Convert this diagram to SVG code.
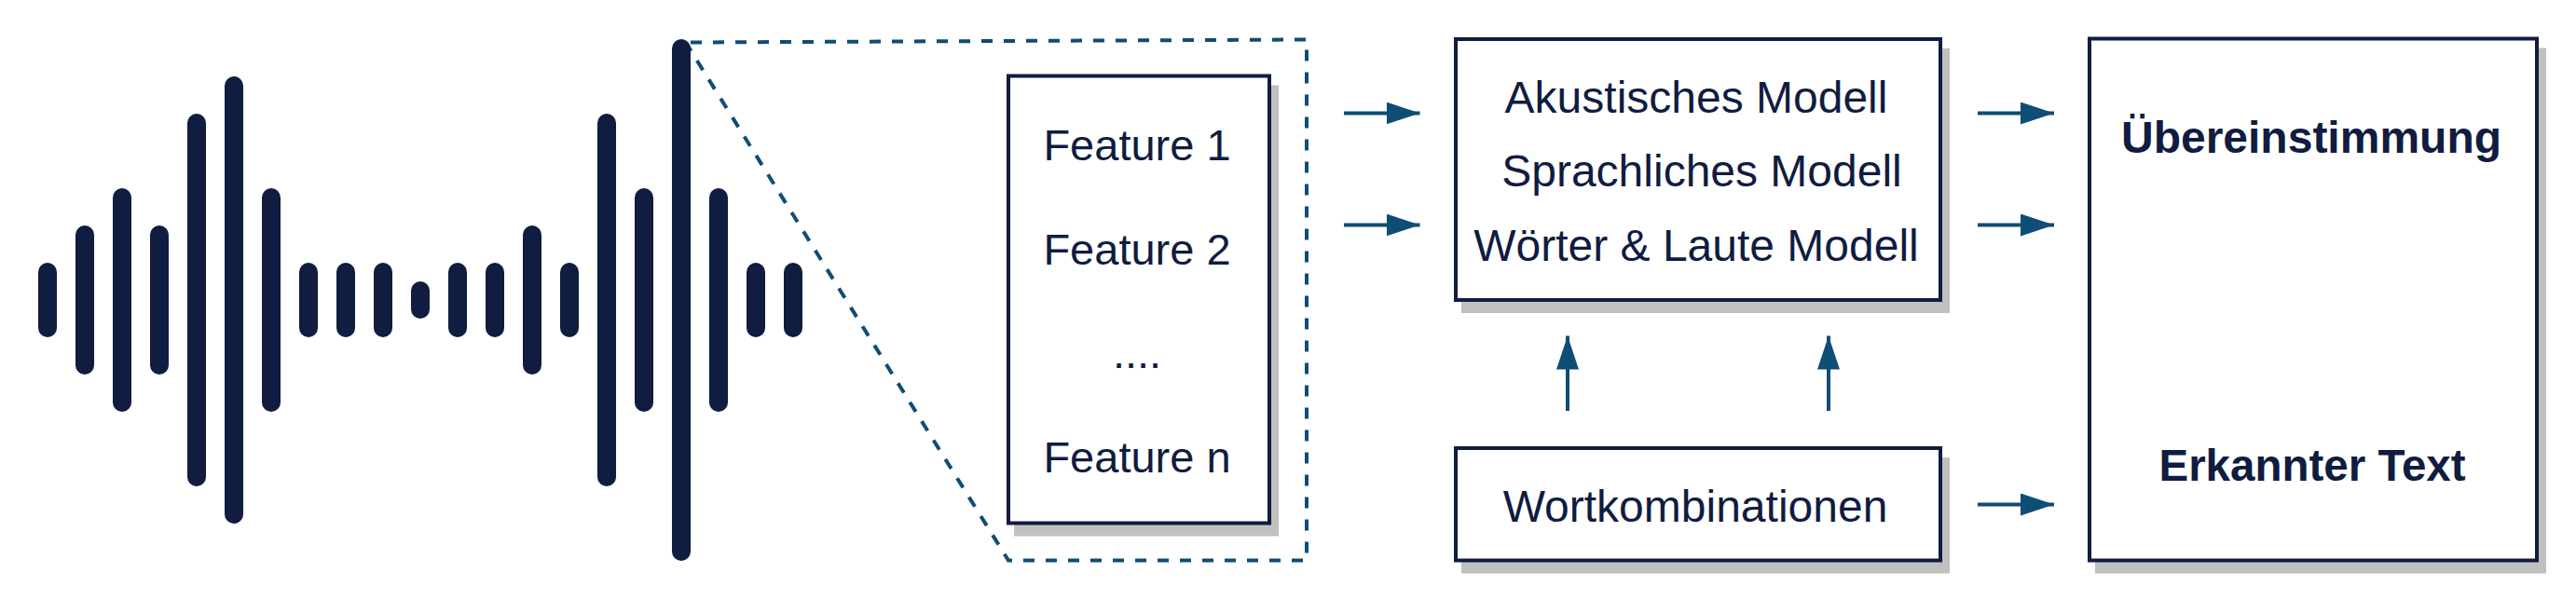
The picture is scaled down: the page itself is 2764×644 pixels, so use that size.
<svg xmlns="http://www.w3.org/2000/svg" width="2764" height="644" viewBox="0 0 2764 644">
<defs>
<style>
.bar{fill:#101c40}
.box{fill:#ffffff;stroke:#101c40;stroke-width:4}
.shadow{fill:#c0c0c0}
.txt{font-family:"Liberation Sans",Arial,sans-serif;font-size:48px;fill:#101c40;text-anchor:middle}
.ftxt{font-size:47px}
.bold{font-weight:bold}
.dash{fill:none;stroke:#0e4d75;stroke-width:4;stroke-dasharray:12 12}
.conn{fill:none;stroke:#0e4d75;stroke-width:4}
</style>
<marker id="ah" markerUnits="userSpaceOnUse" markerWidth="36" markerHeight="24" refX="36" refY="12" orient="auto">
<path d="M0,0 L36,12 L0,24 z" fill="#0e4d75"/>
</marker>
</defs>
<rect width="2764" height="644" fill="#ffffff"/>
<g id="zoom-outline">
<path class="dash" d="M741,45.5 L1402,42.5 L1402,601.5 L1082,601.5 L736,46"/>
</g>
<g id="waveform">
<rect class="bar" x="41" y="282" width="20" height="80" rx="10"/>
<rect class="bar" x="81" y="242" width="20" height="160" rx="10"/>
<rect class="bar" x="121" y="202" width="20" height="240" rx="10"/>
<rect class="bar" x="161" y="242" width="20" height="160" rx="10"/>
<rect class="bar" x="201" y="122" width="20" height="400" rx="10"/>
<rect class="bar" x="241" y="82" width="20" height="480" rx="10"/>
<rect class="bar" x="281" y="202" width="20" height="240" rx="10"/>
<rect class="bar" x="321" y="282" width="20" height="80" rx="10"/>
<rect class="bar" x="361" y="282" width="20" height="80" rx="10"/>
<rect class="bar" x="401" y="282" width="20" height="80" rx="10"/>
<rect class="bar" x="441" y="302" width="20" height="40" rx="10"/>
<rect class="bar" x="481" y="282" width="20" height="80" rx="10"/>
<rect class="bar" x="521" y="282" width="20" height="80" rx="10"/>
<rect class="bar" x="561" y="242" width="20" height="160" rx="10"/>
<rect class="bar" x="601" y="282" width="20" height="80" rx="10"/>
<rect class="bar" x="641" y="122" width="20" height="400" rx="10"/>
<rect class="bar" x="681" y="202" width="20" height="240" rx="10"/>
<rect class="bar" x="721" y="42" width="20" height="560" rx="10"/>
<rect class="bar" x="761" y="202" width="20" height="240" rx="10"/>
<rect class="bar" x="801" y="282" width="20" height="80" rx="10"/>
<rect class="bar" x="841" y="282" width="20" height="80" rx="10"/>
</g>
<g id="features">
<rect class="shadow" x="1088" y="91.5" width="284" height="484"/>
<rect class="box" x="1082" y="81.5" width="280" height="480"/>
<text class="txt ftxt" x="1220" y="171.5">Feature 1</text>
<text class="txt ftxt" x="1220" y="283.5">Feature 2</text>
<text class="txt ftxt" x="1220" y="395">....</text>
<text class="txt ftxt" x="1220" y="507">Feature n</text>
</g>
<g id="models">
<rect class="shadow" x="1568" y="52" width="524" height="284"/>
<rect class="box" x="1562" y="42" width="520" height="280"/>
<text class="txt" x="1820" y="120.5">Akustisches Modell</text>
<text class="txt" x="1826" y="199.5">Sprachliches Modell</text>
<text class="txt" x="1820" y="279.5">Wörter &amp; Laute Modell</text>
</g>
<g id="wortkombinationen">
<rect class="shadow" x="1568" y="491" width="524" height="124.5"/>
<rect class="box" x="1562" y="481" width="520" height="120.5"/>
<text class="txt" x="1819" y="559.5">Wortkombinationen</text>
</g>
<g id="result">
<rect class="shadow" x="2248" y="51.5" width="484" height="564"/>
<rect class="box" x="2242" y="41.5" width="480" height="560"/>
<text class="txt bold" x="2480" y="163.5">Übereinstimmung</text>
<text class="txt bold" x="2481" y="515.5" style="font-size:47.5px">Erkannter Text</text>
</g>
<g id="connectors">
<line class="conn" x1="1442" y1="121.5" x2="1523.5" y2="121.5" marker-end="url(#ah)"/>
<line class="conn" x1="1442" y1="241.5" x2="1523.5" y2="241.5" marker-end="url(#ah)"/>
<line class="conn" x1="1682" y1="441" x2="1682" y2="360.5" marker-end="url(#ah)"/>
<line class="conn" x1="1962" y1="441" x2="1962" y2="360.5" marker-end="url(#ah)"/>
<line class="conn" x1="2122" y1="121.5" x2="2204" y2="121.5" marker-end="url(#ah)"/>
<line class="conn" x1="2122" y1="241.5" x2="2204" y2="241.5" marker-end="url(#ah)"/>
<line class="conn" x1="2122" y1="541.5" x2="2204" y2="541.5" marker-end="url(#ah)"/>
</g>
</svg>
